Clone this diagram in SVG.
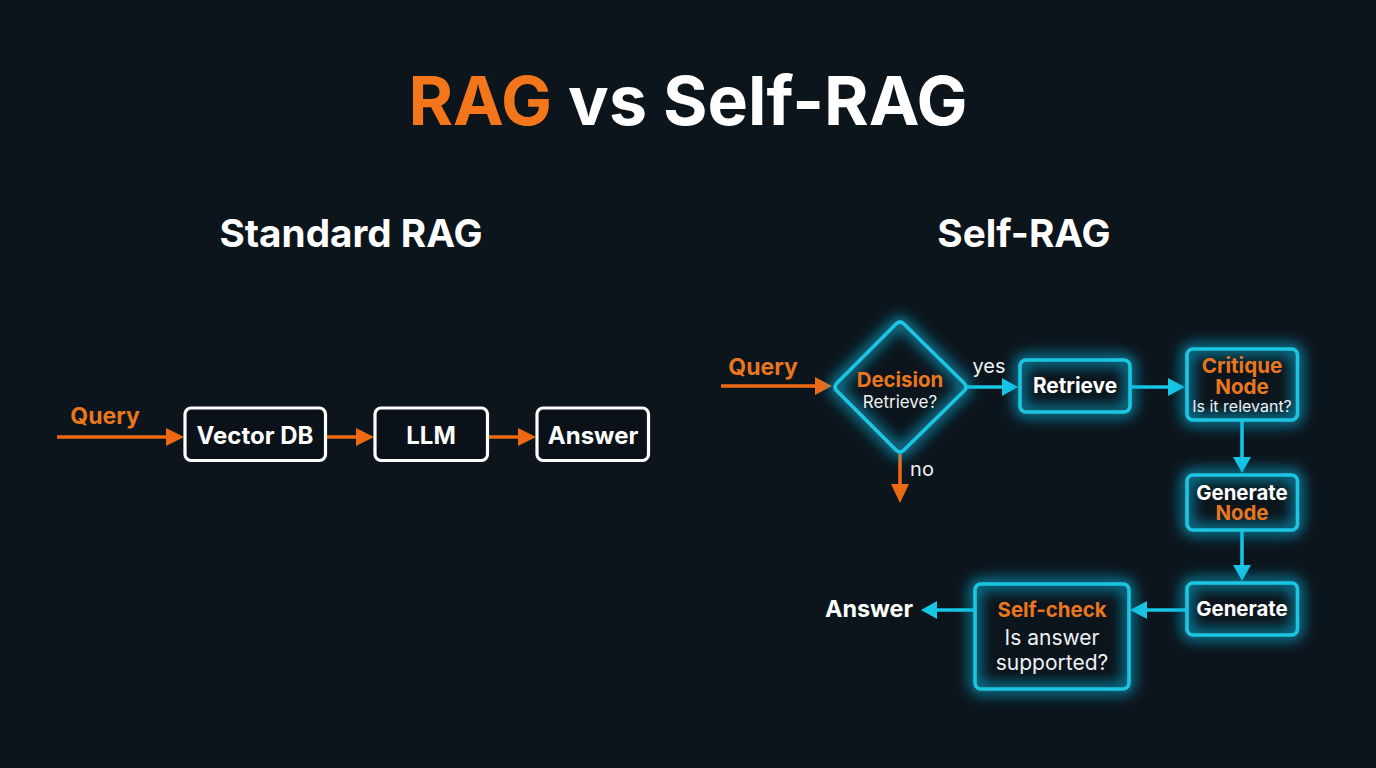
<svg xmlns="http://www.w3.org/2000/svg" width="1376" height="768" viewBox="0 0 1376 768">
<style>
text{font-family:Inter,"Liberation Sans",sans-serif;text-anchor:middle}
.b{font-weight:700;fill:#fff}
.o{font-weight:700;fill:#e8771f}
.r{font-weight:400;fill:#eef2f5}
.n{fill:none;stroke:#1ac6e2;stroke-width:3.6}
.w{fill:#0a1119;stroke:#fff;stroke-width:3.2}
.g{fill:none;stroke:#0fb4dc;stroke-width:11;stroke-opacity:.72;filter:url(#glow)}
.lo{stroke:#ee6a12;stroke-width:3.5;fill:none}
.lc{stroke:#18c6e6;stroke-width:3.5;fill:none}
.ho{fill:#ee6a12}
.hc{fill:#18c6e6}
</style>
<defs>
<filter id="glow" x="-40%" y="-40%" width="180%" height="180%"><feGaussianBlur stdDeviation="7"/></filter>
<path id="dia" d="M896 324Q900 320 904 324L964 383Q968 387 964 391L904 450Q900 454 896 450L837 391Q833 387 837 383Z"/>
</defs>
<rect width="1376" height="768" fill="#0c141c"/>
<g id="title"><text x="688" y="125" font-size="68" font-weight="700" fill="#fff"><tspan fill="#f4761a">RAG</tspan> vs Self-RAG</text></g>
<text id="h-standard" class="b" x="351" y="247" font-size="38.7">Standard RAG</text>
<text id="h-self" class="b" x="1024" y="247" font-size="38.7">Self-RAG</text>

<g id="connectors">
<path class="lo" d="M57 437H170"/><path class="ho" d="M184 437L166 428V446Z"/>
<path class="lo" d="M326 437H360"/><path class="ho" d="M374 437L356 428V446Z"/>
<path class="lo" d="M488 437H522"/><path class="ho" d="M536 437L518 428V446Z"/>
<path class="lo" d="M721 386H818"/><path class="ho" d="M832 386L815 377V395Z"/>
<path class="lc" d="M967 387H1005"/><path class="hc" d="M1018 387L1002 378V396Z"/>
<path class="lc" d="M1130 387H1172"/><path class="hc" d="M1185 387L1168 378V396Z"/>
<path class="lo" d="M900 454V488"/><path class="ho" d="M900 503L891 484H909Z"/>
<path class="lc" d="M1242 420V460"/><path class="hc" d="M1242 473L1233 457H1251Z"/>
<path class="lc" d="M1242 530V568"/><path class="hc" d="M1242 581L1233 565H1251Z"/>
<path class="lc" d="M1186 610H1142"/><path class="hc" d="M1130 610L1147 601V619Z"/>
<path class="lc" d="M974 610H934"/><path class="hc" d="M921 610L937 601V619Z"/>
</g>

<g id="std-query"><text class="o" x="105" y="424" font-size="23">Query</text></g>
<g id="std-vector"><rect class="w" x="185" y="408" width="140.500" height="52.500" rx="6"/><text class="b" x="255" y="444" font-size="24">Vector DB</text></g>
<g id="std-llm"><rect class="w" x="375" y="408" width="112.500" height="52.500" rx="6"/><text class="b" x="431" y="444" font-size="24">LLM</text></g>
<g id="std-answer"><rect class="w" x="537" y="408" width="111.500" height="52.500" rx="6"/><text class="b" x="593" y="444" font-size="24">Answer</text></g>

<g id="self-query"><text class="o" x="763" y="375" font-size="23">Query</text></g>
<g id="decision">
<use href="#dia" class="g"/><use href="#dia" class="n"/>
<text class="o" x="900" y="387" font-size="20.4">Decision</text>
<text class="r" x="900" y="408" font-size="17">Retrieve?</text>
</g>
<text id="label-yes" class="r" x="989" y="373" font-size="20">yes</text>
<text id="label-no" class="r" x="922" y="476" font-size="20">no</text>
<g id="retrieve"><rect class="g" x="1020" y="360" width="110" height="52" rx="6"/><rect class="n" x="1020" y="360" width="110" height="52" rx="6"/><text class="b" x="1075" y="393" font-size="20.8">Retrieve</text></g>
<g id="critique"><rect class="g" x="1187" y="349" width="110.500" height="71" rx="6"/><rect class="n" x="1187" y="349" width="110.500" height="71" rx="6"/>
<text class="o" x="1242" y="373" font-size="20.6">Critique</text><text class="o" x="1242" y="393.500" font-size="20.6">Node</text><text class="r" x="1242" y="411.500" font-size="16">Is it relevant?</text></g>
<g id="generate-node"><rect class="g" x="1187" y="475" width="110.500" height="55" rx="6"/><rect class="n" x="1187" y="475" width="110.500" height="55" rx="6"/>
<text class="b" x="1242" y="500" font-size="20.4">Generate</text><text class="o" x="1242" y="520" font-size="20.4">Node</text></g>
<g id="generate"><rect class="g" x="1187" y="583" width="110.500" height="52" rx="6"/><rect class="n" x="1187" y="583" width="110.500" height="52" rx="6"/><text class="b" x="1242" y="616" font-size="20.4">Generate</text></g>
<g id="self-check"><rect class="g" x="975" y="584" width="154" height="105" rx="6"/><rect class="n" x="975" y="584" width="154" height="105" rx="6"/>
<text class="o" x="1052" y="617" font-size="20.4">Self-check</text><text class="r" x="1052" y="645" font-size="21">Is answer</text><text class="r" x="1052" y="670" font-size="21">supported?</text></g>
<text id="self-answer" class="b" x="869" y="617" font-size="23.4">Answer</text>
</svg>
